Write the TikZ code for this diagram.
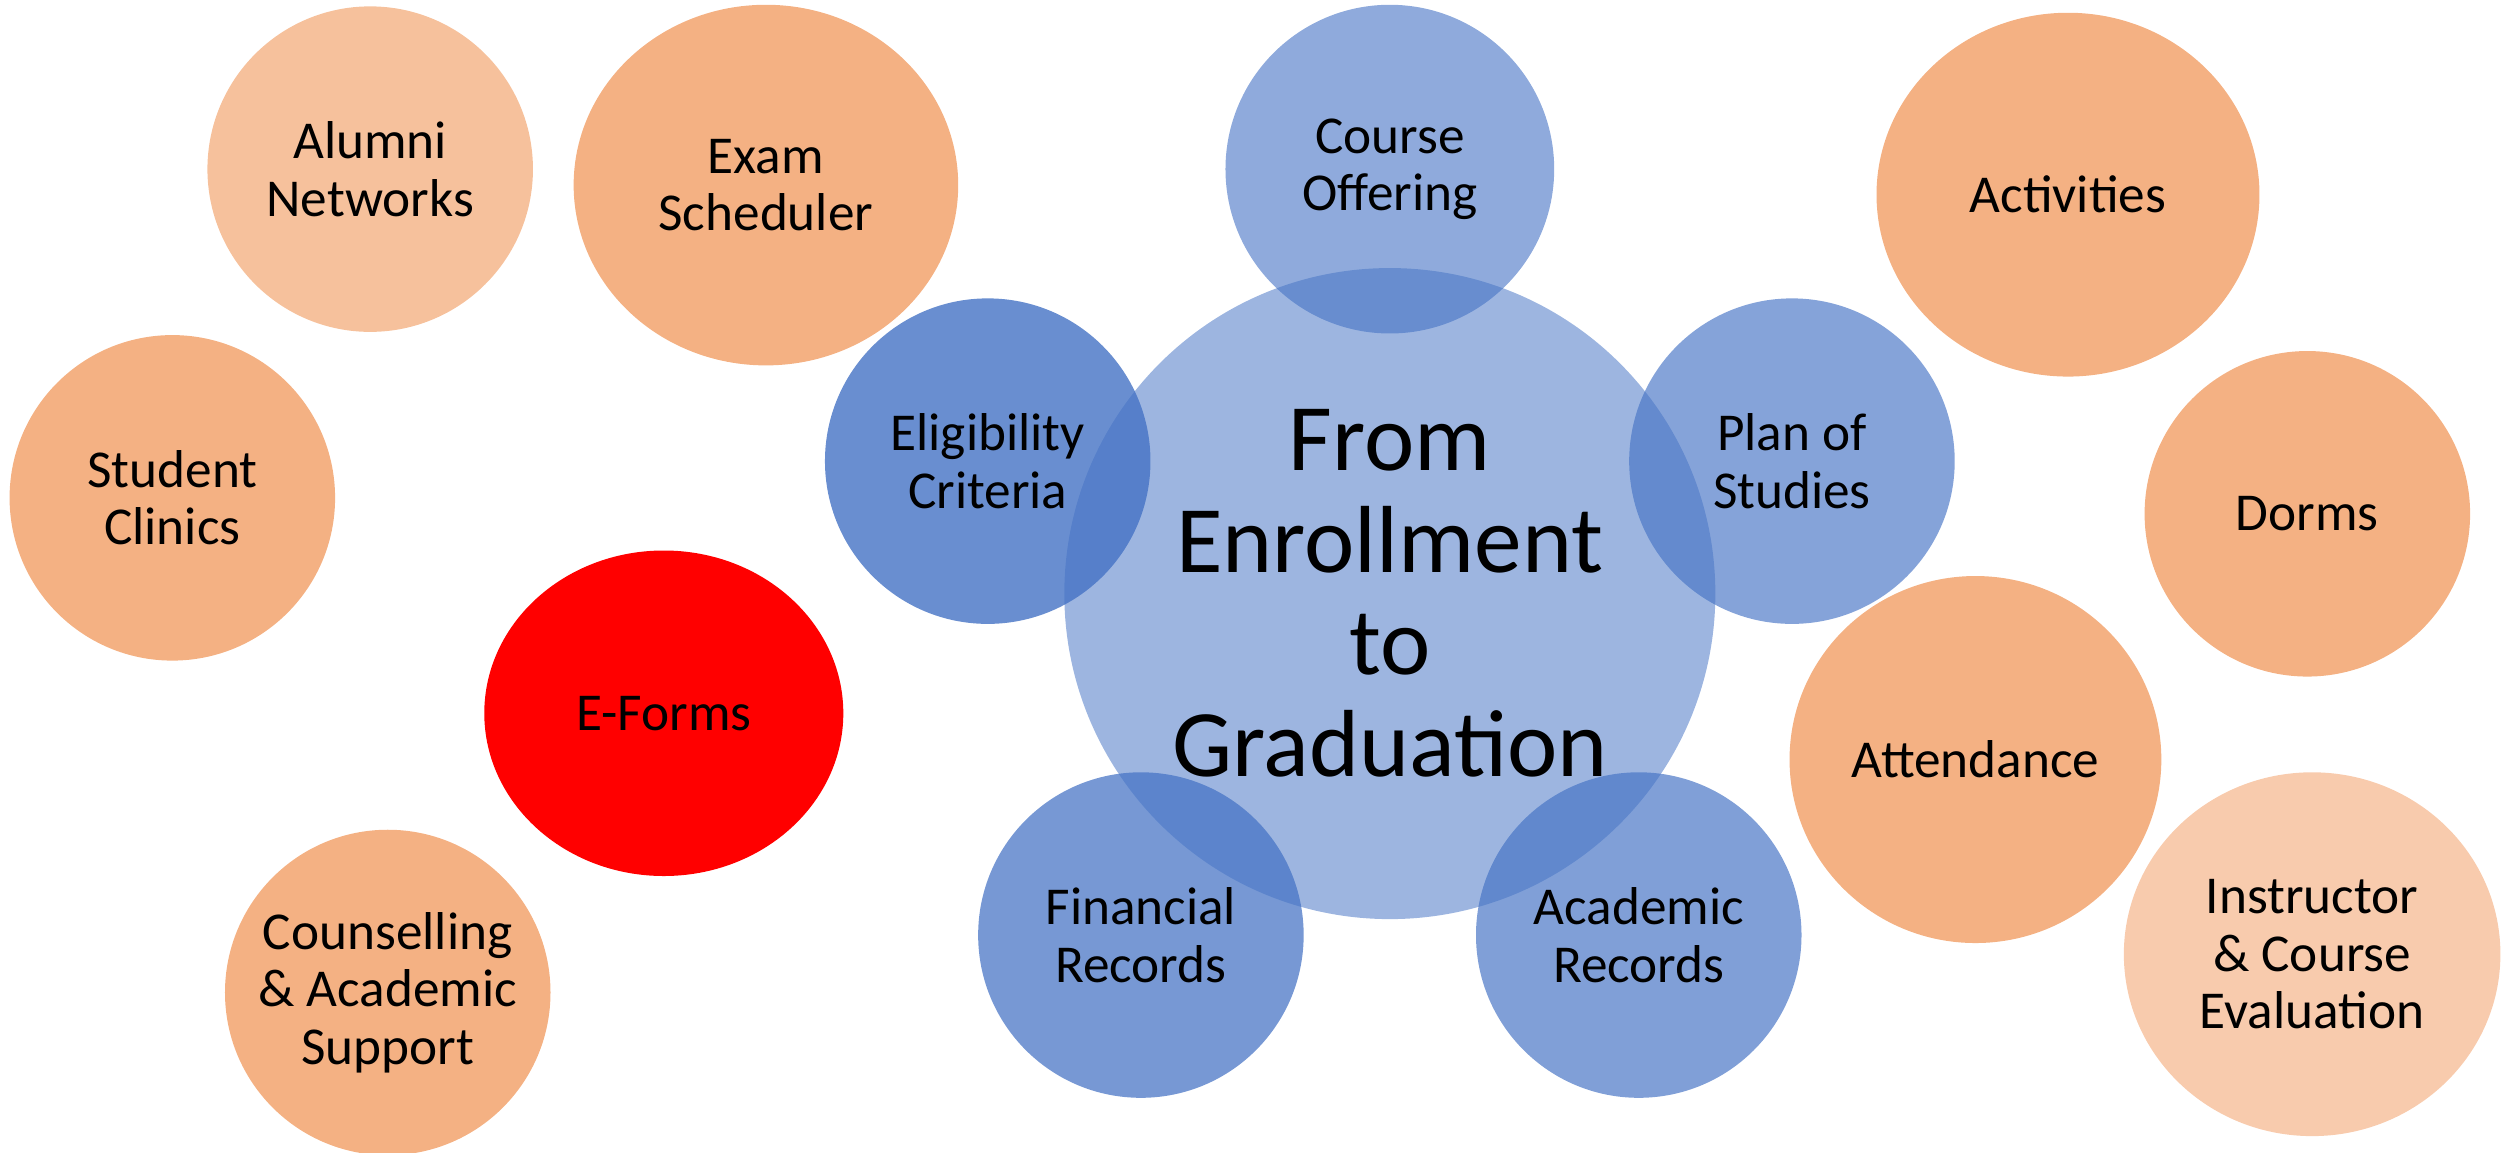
\documentclass[tikz,border=0pt]{standalone}
\usepackage{fontspec}
\setmainfont{Carlito}
\usepackage{tikz}
\usetikzlibrary{shapes.geometric}
\definecolor{apricot}{HTML}{F4B183}
\definecolor{peach}{HTML}{F6C19C}
\definecolor{paleapricot}{HTML}{F8CBAD}
\definecolor{royal}{HTML}{4472C4}
\newcommand{\dpx}{*0.02cm}
\tikzstyle{bubble}   = [circle, inner sep=0pt, minimum size=204\dpx, align=center, font=\fontsize{19}{20.5}\selectfont]
\tikzstyle{egg}      = [ellipse, inner sep=0pt, align=center, font=\fontsize{19}{20.5}\selectfont]
\tikzstyle{orbit}    = [bubble, fill=royal, text opacity=1]
\tikzstyle{hub}      = [circle, inner sep=0pt, minimum size=408\dpx, fill=royal, fill opacity=0.52, text opacity=1, align=center, font=\fontsize{34}{36.4}\selectfont]

\begin{document}
\begin{tikzpicture}[x=0.02cm, y=-0.02cm]
	\useasboundingbox (0,0) rectangle (1568,722);
	% outer services
	\node[bubble, fill=peach]		(Alumni)		at (232,106)	{Alumni\\Networks};
	\node[egg, fill=apricot, minimum width=241\dpx, minimum height=226\dpx]	(Exam)	at (480,116)	{Exam\\Scheduler};
	\node[bubble, fill=apricot]	(Clinics)		at (108,312)	{Student\\Clinics};
	\node[egg, fill=red, minimum width=225\dpx, minimum height=204\dpx]		(EForms)	at (416,447)	{E-Forms};
	\node[bubble, fill=apricot]	(Counselling)	at (243,622)	{Counselling\\\& Academic\\Support};
	\node[egg, fill=apricot, minimum width=240\dpx, minimum height=228\dpx]	(Activities)	at (1296,122)	{Activities};
	\node[bubble, fill=apricot]	(Dorms)			at (1446,322)	{Dorms};
	\node[egg, fill=apricot, minimum width=233\dpx, minimum height=230\dpx]	(Attendance)	at (1238,476)	{Attendance};
	\node[egg, fill=paleapricot, minimum width=236\dpx, minimum height=228\dpx]	(Evaluation)	at (1449,598)	{Instructor\\\& Course\\Evaluation};

	% core services
	\node[orbit, fill opacity=0.6, minimum size=206\dpx]	(Offering)		at (871,106)	{Course\\Offering};
	\node[orbit, fill opacity=0.8]		(Eligibility)	at (619,289)	{Eligibility\\Criteria};
	\node[orbit, fill opacity=0.65]	(Plan)			at (1123,289)	{Plan of\\Studies};
	\node[orbit, fill opacity=0.73]	(Financial)	at (715,586)	{Financial\\Records};
	\node[orbit, fill opacity=0.68]	(Academic)		at (1027,586)	{Academic\\Records};

	\node[hub]	(Hub)	at (871,372)	{From\\Enrollment\\to\\Graduation};
\end{tikzpicture}
\end{document}
